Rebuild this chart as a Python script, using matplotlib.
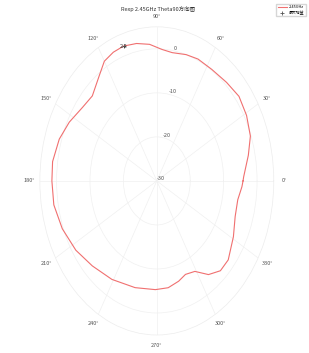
import numpy as np
import matplotlib
matplotlib.use("Agg")
import matplotlib.pyplot as plt

plt.rcParams['font.family'] = ['Noto Sans CJK SC', 'DejaVu Sans']
plt.rcParams['axes.unicode_minus'] = False

# measured pattern (angle in degrees, gain in dB)
angles_deg = [0, 2, 12, 20, 29, 38, 47, 57, 66, 73, 81, 87, 94, 101, 108, 114, 120, 126,
              135, 143, 153, 162, 172, 180, 190, 201, 213, 225, 239, 255, 269, 278, 286,
              292, 299, 306, 313, 320, 331, 341, 350, 357, 360]
gain_db = [-4.2, -4.0, -2.0, -0.2, 0.7, 1.2, 0.6, 0.2, 0.3, 0.0, -0.5, -0.1, 1.1, 1.8,
           2.2, 2.0, 1.4, -0.6, -2.7, -2.2, -0.6, 0.7, 1.5, 1.4, 1.3, 0.3, -1.1, -2.7,
           -3.9, -4.9, -5.3, -5.5, -6.3, -7.1, -6.5, -3.7, -2.1, -2.1, -3.8, -5.2, -5.4,
           -4.5, -4.2]
r_ticks = [-30, -20, -10, 0]
title_text = 'Rexp 2.45GHz Theta90方向图'
legend_labels = ['2.45GHz', '最大增益']

theta = np.deg2rad(angles_deg)
gain = np.array(gain_db)
imax = int(np.argmax(gain))

fig = plt.figure(figsize=(3.09, 3.53), dpi=100)
ax = fig.add_axes([0.129, 0.051, 0.757, 0.873], projection='polar')
ax.set_aspect('auto')

line, = ax.plot(theta, gain, color='#f07070', lw=0.8, label=legend_labels[0])
mk, = ax.plot(theta[imax], gain[imax], '+', color='#555555', ms=3, mew=0.6,
              label=legend_labels[1])
ax.text(theta[imax], gain[imax], f'{gain[imax]:.1f}', fontsize=4, color='#333333',
        ha='center', va='center')

ax.set_rlim(-30, 5)
ax.set_rticks(r_ticks)
ax.set_rlabel_position(80)
ax.set_thetagrids(np.arange(0, 360, 30), [f'{a}°' for a in range(0, 360, 30)])
ax.tick_params(axis='x', labelsize=4, colors='#555555', pad=-3)
ax.tick_params(axis='y', labelsize=4, colors='#555555')
ax.grid(True, color='#f0f0f0', lw=0.5)
ax.spines['polar'].set_color('#ececec')
ax.spines['polar'].set_linewidth(0.5)

fig.text(0.51, 0.975, title_text, fontsize=4, ha='center', va='center', color='#333333')
fig.legend(handles=[line, mk], loc='upper right', bbox_to_anchor=(0.995, 0.995),
           fontsize=2.8, frameon=True, fancybox=False, edgecolor='#cccccc',
           handlelength=2.2, borderpad=0.4, labelspacing=0.3, handletextpad=0.5)

fig.savefig('out.png', dpi=100)
